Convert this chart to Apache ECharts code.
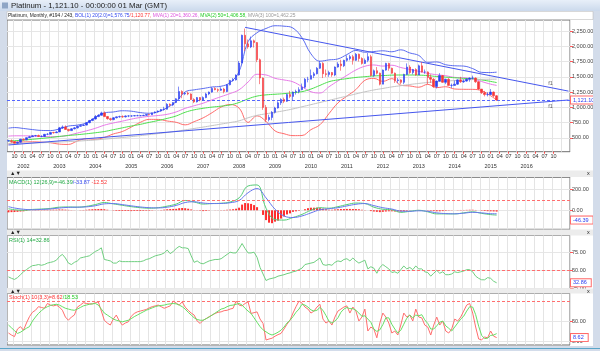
<!DOCTYPE html>
<html>
<head>
<meta charset="utf-8">
<script src="https://cdn.jsdelivr.net/npm/echarts@6/dist/echarts.min.js"></script>
<style>
html, body { margin: 0; padding: 0; background: #fff; }
#main { width: 600px; height: 351px; }
</style>
</head>
<body>
<div id="main"></div>
<script>
// monthly categories, Aug 2001 .. Mar 2017 (future months stay empty)
const months = [];
for (let y = 2001, m = 8; months.length < 188; ) {
    months.push(y + '-' + String(m).padStart(2, '0'));
    m++;
    if (m > 12) { m = 1; y++; }
}

// [open, close, low, high], Aug 2001 .. Mar 2015
const candles = [
    [450,455,440,470],[455,440,425,475],[440,415,410,445],[415,430,405,440],[430,480,425,485],
    [480,470,455,490],[470,505,465,510],[505,520,500,535],[520,535,515,545],[535,540,525,550],[540,525,515,555],
    [525,525,510,545],[525,560,520,565],[560,560,545,580],[560,590,555,600],[590,585,570,600],[585,598,580,610],
    [598,665,595,680],[665,680,650,705],[680,640,630,705],[640,620,605,650],[620,650,615,660],[650,665,640,680],
    [665,690,655,700],[690,705,680,715],[705,710,695,725],[710,750,705,760],[750,785,740,795],[785,810,775,815],
    [810,850,800,875],[850,870,840,890],[870,910,865,930],[910,850,840,935],[850,815,800,860],[815,800,780,830],
    [800,830,790,840],[830,845,820,850],[845,850,830,865],[850,845,830,870],[845,860,835,870],[860,860,840,870],
    [860,860,845,870],[860,865,855,875],[865,865,855,880],[865,865,855,875],[865,870,860,880],[870,885,860,890],
    [885,880,870,895],[880,910,875,915],[910,925,900,935],[925,940,915,950],[940,965,930,975],[965,970,945,1010],
    [970,1050,965,1070],[1050,1040,1010,1065],[1040,1080,1020,1085],[1080,1140,1070,1150],[1140,1260,1130,1340],[1260,1220,1150,1280],
    [1220,1230,1200,1250],[1230,1220,1200,1260],[1220,1130,1120,1230],[1130,1090,1070,1150],[1090,1160,1080,1170],[1160,1120,1100,1170],
    [1120,1160,1110,1180],[1160,1220,1150,1240],[1220,1250,1200,1260],[1250,1310,1240,1330],[1310,1290,1280,1330],[1290,1280,1250,1310],
    [1280,1300,1270,1330],[1300,1260,1230,1320],[1260,1370,1250,1380],[1370,1440,1360,1450],[1440,1450,1420,1480],[1450,1530,1440,1540],
    [1530,1725,1520,1760],[1725,2180,1720,2190],[2180,2040,1920,2290],[2040,1990,1960,2110],[1990,2090,1970,2160],[2090,2060,1980,2110],
    [2060,1780,1740,2070],[1780,1480,1380,1800],[1480,1000,960,1490],[1000,800,760,1040],[800,835,770,880],[835,920,790,940],
    [920,990,900,1010],[990,1075,980,1100],[1075,1130,1040,1150],[1130,1100,1070,1160],[1100,1210,1090,1230],[1210,1180,1150,1270],
    [1180,1250,1110,1260],[1250,1260,1210,1290],[1260,1290,1230,1330],[1290,1330,1280,1390],[1330,1460,1310,1480],[1460,1460,1410,1500],
    [1460,1520,1460,1620],[1520,1550,1480,1580],[1550,1640,1540,1660],[1640,1720,1630,1760],[1720,1550,1480,1740],[1550,1540,1500,1620],
    [1540,1570,1500,1600],[1570,1530,1500,1580],[1530,1660,1510,1670],[1660,1710,1650,1740],[1710,1680,1600,1780],[1680,1770,1660,1780],
    [1770,1800,1750,1850],[1800,1830,1770,1860],[1830,1770,1700,1860],[1770,1870,1760,1890],[1870,1800,1750,1880],[1800,1720,1700,1820],
    [1720,1770,1710,1800],[1770,1830,1740,1890],[1830,1520,1510,1860],[1520,1600,1500,1620],[1600,1560,1540,1660],[1560,1380,1360,1570],
    [1380,1610,1380,1620],[1610,1720,1600,1730],[1720,1640,1600,1730],[1640,1560,1550,1650],[1560,1440,1400,1570],[1440,1450,1400,1480],
    [1450,1410,1380,1460],[1410,1540,1380,1550],[1540,1660,1530,1720],[1660,1570,1550,1690],[1570,1620,1540,1630],[1620,1530,1520,1640],
    [1530,1680,1530,1700],[1680,1580,1570,1740],[1580,1580,1550,1620],[1580,1490,1380,1590],[1490,1460,1400,1540],[1460,1340,1320,1480],
    [1340,1430,1310,1440],[1430,1520,1420,1560],[1520,1410,1400,1530],[1410,1460,1380,1470],[1460,1360,1360,1480],[1360,1360,1320,1390],
    [1360,1380,1360,1440],[1380,1450,1370,1460],[1450,1420,1400,1500],[1420,1430,1400,1460],[1430,1460,1420,1480],[1460,1480,1420,1490],
    [1480,1480,1460,1520],[1480,1420,1400,1490],[1420,1300,1290,1430],[1300,1240,1220,1300],[1240,1210,1180,1270],[1210,1210,1180,1250],
    [1210,1250,1200,1300],[1250,1190,1170,1260],[1190,1121,1110,1200]
];
const lastPrice = 1121.10;

// indicator lines read quarterly
const lineDates = ['2001-08'];
for (let i = 2; i <= 161; i += 3) lineDates.push(months[i]);
lineDates.push('2015-03');

const bbUpper = [660,670,655,637,623,621,647,694,710,746, 838,909,925,945,938,915,904,931,997,1096,
    1254,1287,1309,1334,1346,1407,1588,2075,2222,2291, 2336,2329,2298,2140,1876,1756,1777,1793,1864,1932,
    1903,1914,1926,1910,1942,1891,1850,1737,1744,1698, 1681,1676,1635,1573,1570,1576.75];
const bbLower = [400,430,435,437,431,421,399,394,450,486, 478,509,565,605,678,755,804,803,777,756,
    714,767,829,914,1006,1047,988,755,862,771, 616,569,538,540,636,716,897,1073,1184,1292,
    1443,1474,1426,1470,1362,1351,1330,1377,1324,1338, 1301,1296,1295,1273,1190,1120.77];
const ma20 = [530,535,535,530,525,520,523,544,580,616, 658,709,745,775,808,835,854,867,887,926,
    984,1027,1069,1124,1176,1227,1288,1415,1542,1531, 1476,1449,1418,1340,1256,1236,1337,1433,1524,1612,
    1673,1694,1676,1690,1652,1621,1590,1557,1534,1518, 1491,1486,1465,1423,1380,1360.26];
const ma50 = [450,455,465,478,492,507,525,540,553,568, 585,605,635,665,695,722,755,785,820,860,
    920,960,985,1005,1020,1040,1080,1140,1185,1205, 1215,1225,1240,1257,1300,1360,1420,1450,1470,1490,
    1502,1515,1520,1528,1530,1530,1528,1520,1505,1495, 1485,1475,1468,1450,1425,1406.58];
const ma100 = [410,412,415,418,422,427,433,440,448,457, 467,480,493,507,522,538,555,572,590,610,
    632,655,678,702,727,752,780,830,870,895, 920,945,975,1010,1045,1080,1115,1150,1185,1220,
    1255,1285,1310,1335,1355,1375,1392,1408,1420,1430, 1440,1448,1455,1459,1461,1462.25];

const macdLine = [15,5,0,8,12,18,30,32,30,38, 55,75,62,48,35,25,20,25,40,60,
    95,80,60,65,68,80,120,235,245,20, -90,-95,-70,-40,0,25,20,35,55,70,
    65,30,10,5,-20,-10,0,-15,-35,-35, -35,-25,-15,-30,-42,-46.39];
const macdSignal = [35,22,10,5,8,13,22,28,30,33, 44,62,65,55,43,32,25,23,30,47,
    75,82,70,65,66,73,95,170,210,120, 10,-55,-70,-55,-25,5,15,25,42,58,
    65,45,25,12,-8,-10,-5,-10,-25,-32, -34,-28,-20,-25,-33,-33.87];

// monthly, Aug 2001 .. Mar 2015
const macdHist = [-20,-18,-17,-15,-12,
    -10,-6,-2,2,4,4,4,5,5,6,6,6, 8,8,6,4,2,1,0,2,3,5,8,10,
    11,12,13,10,5,0,-3,-6,-7,-7,-7,-7, -8,-7,-7,-7,-6,-5,-5,-3,-1,1,3,6,
    10,12,13,14,20,22,20,15,8,2,-2,-4, -8,-6,-3,0,1,1,2,3,5,7,10,15,
    25,55,70,68,62,50,30,0,-45,-95,-120,-125, -110,-100,-80,-60,-40,-30,-15,-10,-5,0,10,20,
    25,25,25,20,15,10,5,5,8,10,12,12, 13,13,12,12,10,5,2,0,-8,-12,-15,-18,
    -15,-12,-10,-10,-12,-12,-12,-10,-5,-2,0,0, 3,2,0,-3,-5,-8,-10,-10,-8,-5,-3,-2,
    0,2,3,3,4,5,5,3,0,-4,-7,-9, -10,-11,-12.52];
const rsi = [41,39,37.5,40,44,48,51,54,56.5,57, 58,57,58,60,61,62,64,69,72,67,
    60,58,61,63,67,68,69,70,73,76, 78,81,65,64,63,60,60,63,62,62,
    62,62,62,62,62,63,65,66,68,70, 71,72,74,78,73,76,80,83,81,81,
    80,70,61,63,60,59,61,63,64,65, 65,66,69,72,75,74,74,80,87,80,
    74,74,75,68,54,45,36,38,39,40, 42,43,44,45.5,46.5,48,49,51,53,58,
    59,60,61,64,67,58,57,58,57,61, 63,62,65,66,63,67,63,60,62,64,
    52,55,53,46,54,58,55,52,47,48, 46,51,56,52,54,51,56,52,52,48,
    47,42,46,50,46,48,44,44,45,48, 47,48,49,51,51,48,42,39,37,37,
    40,39,35,32.86];
const stochK = [20,15,11,30,36,27,45,61,72,77, 86,84,82,94,90,88,90,85,77,60,
    52,60,65,85,90,96,94,93,93,96, 98,75,52,45,40,55,65,50,40,45,
    48,62,69,73,75,77,79,83,86,88, 90,86,82,85,88,100,95,90,98,85,
    77,70,65,50,44,52,56,61,65,69, 72,73,76,77,80,82,100,90,88,94,
    98,69,71,73,55,44,2.5,5,7,12, 16,19,30,42,52,70,86,100,95,85,
    80,70,75,85,92,55,45,50,40,60, 75,80,85,88,70,85,75,50,60,80,
    25,35,30,8,45,70,60,45,20,25, 15,40,70,60,65,50,80,60,58,40,
    35,15,40,60,40,50,25,20,30,55, 50,60,75,90,94,70,35,5,3,10,
    8,25,12,8.62];
const stochD = [40,33,26,19,22,27,32,36,50,60, 69,76,82,86,89,91,92,90,86,82,
    80,78,77,80,84,88,90,92,93,94, 90,80,70,65,60,55,52,50,48,50,
    52,56,61,65,69,73,77,80,83,86, 88,89,90,92,93,94,93,90,86,80,
    72,65,58,54,52,52,56,60,65,70, 75,80,82,86,89,90,92,94,90,82,
    75,69,58,47,36,28,23,18,15,18, 22,27,35,45,52,61,72,80,92,90,
    85,78,75,77,84,77,64,50,45,50, 58,72,80,84,81,81,77,70,62,63,
    55,47,30,24,28,41,58,58,42,30, 20,27,42,57,65,58,65,63,66,53,
    44,30,30,38,47,50,38,32,25,35, 45,55,62,75,86,85,66,37,14,6,
    7,14,15,18.53];

// hand-drawn trend lines and their tags
const trendUpper = [['2008-03', 2310], ['2017-03', 1266]];
const trendLower = [['2001-08', 385], ['2017-03', 1121]];
const trendTags = [['2016-09', 1394], ['2016-09', 1023]];

const priceTicks = [500, 750, 1000, 1250, 1500, 1750, 2000, 2250];
const macdTicks = [0, 200];
const rsiTicks = [25, 50, 75];
const stochTicks = [0, 50];

const toPairs = arr => lineDates.map((d, i) => [d, arr[i]]);
const fmt2 = v => v.toLocaleString('en-US', { minimumFractionDigits: 2, maximumFractionDigits: 2 });
const isQuarter = (i, v) => months[i] < '2017' && ['01', '04', '07', '10'].indexOf(months[i].slice(5)) >= 0;
const isQuarterLine = (i, v) => ['01', '04', '07', '10'].indexOf(months[i].slice(5)) >= 0;
const FONT = 'Liberation Sans';

const grids = [
    { left: 7, top: 20, width: 563, height: 131.7 },
    { left: 7, top: 177.3, width: 563, height: 52 },
    { left: 7, top: 235.5, width: 563, height: 53 },
    { left: 7, top: 293.5, width: 563, height: 51.5 }
].map(g => Object.assign(g, {
    show: true, backgroundColor: '#fff', borderColor: '#6f6f6f', borderWidth: 1,
    containLabel: false, outerBoundsMode: 'none'
}));

function xAxisFor(idx) {
    const main = idx === 0;
    return {
        type: 'category', gridIndex: idx, data: months, boundaryGap: true,
        axisLine: { show: false },
        axisTick: { show: main, interval: isQuarter, alignWithLabel: true, length: 2, lineStyle: { color: '#ff4a4a' } },
        axisLabel: {
            show: main, interval: isQuarter, margin: 0, fontSize: 5.5, lineHeight: 10,
            color: '#333', fontFamily: FONT,
            formatter: v => {
                const p = v.split('-');
                return p[1] === '01' ? p[1] + '\n{yr|' + p[0] + '}' : p[1];
            },
            rich: { yr: { fontSize: 5.5, lineHeight: 10, color: '#333', fontFamily: FONT } }
        },
        splitLine: { show: true, interval: isQuarterLine, lineStyle: { color: '#e4e4e4', width: 1 } }
    };
}

function yAxisFor(idx, min, max, ticks, fmt) {
    return {
        type: 'value', gridIndex: idx, position: 'right', min: min, max: max, scale: true,
        axisLine: { show: false },
        axisTick: { show: true, customValues: ticks, length: 3, lineStyle: { color: '#ff5a5a' } },
        axisLabel: { customValues: ticks, formatter: fmt, fontSize: 5.5, color: '#444', margin: 2, fontFamily: FONT },
        splitLine: { show: true, lineStyle: { color: '#e6e6e6' } }
    };
}

const boxLabel = (text, shift) => ({
    show: true, position: 'end', formatter: text, distance: 1, fontSize: 5.5, color: '#2a3cf0',
    fontFamily: FONT, backgroundColor: '#fff', borderColor: '#ff6a6a', borderWidth: 1,
    padding: [1, 4, 0, 2], offset: [0, shift || 0]
});
// one markLine per series: optional dashed threshold and optional value box
function marks(dashAt, boxAt, boxText, shift) {
    const data = [];
    if (dashAt !== null) {
        data.push({ yAxis: dashAt, lineStyle: { color: '#ff6e6e', type: [3, 2], width: 1 }, label: { show: false } });
    }
    if (boxAt !== null) {
        data.push({ yAxis: boxAt, lineStyle: { color: 'rgba(0,0,0,0)', width: 0 }, label: boxLabel(boxText, shift) });
    }
    return { symbol: 'none', silent: true, data: data };
}

const line = (name, data, color, x, smooth) => ({
    name: name, type: 'line', xAxisIndex: x, yAxisIndex: x, data: data,
    symbol: 'none', smooth: smooth, connectNulls: true,
    lineStyle: { color: color, width: 1 }, z: 3
});

const label = (x, y, text, rich, size) => ({
    type: 'text', x: x, y: y,
    style: { text: text, rich: rich, fontSize: size || 5.5, fontFamily: FONT, fill: '#222', verticalAlign: 'middle' }
});

const chart = echarts.init(document.getElementById('main'), null, { renderer: 'canvas' });
chart.setOption({
    animation: false,
    backgroundColor: '#fff',
    grid: grids,
    xAxis: [0, 1, 2, 3].map(xAxisFor),
    yAxis: [
        yAxisFor(0, 275, 2430, priceTicks, fmt2),
        yAxisFor(1, -184, 319, macdTicks, fmt2),
        yAxisFor(2, 25, 98, rsiTicks, fmt2),
        yAxisFor(3, -10, 119, stochTicks, fmt2)
    ],
    graphic: [
        { type: 'rect', shape: { x: 0, y: 0, width: 600, height: 11 },
          style: { fill: new echarts.graphic.LinearGradient(0, 0, 0, 1, [{ offset: 0, color: '#e8eff9' }, { offset: 1, color: '#cbd9ec' }]) } },
        { type: 'rect', shape: { x: 2, y: 2.5, width: 6, height: 6 }, style: { fill: '#8fa6c6' } },
        label(11, 6, 'Platinum - 1,121.10 - 00:00:00 01 Mar (GMT)', null, 7.8),
        { type: 'rect', shape: { x: 0, y: 11, width: 7, height: 340 }, style: { fill: '#d3dcea' } },
        { type: 'rect', shape: { x: 593, y: 11, width: 7, height: 340 }, style: { fill: '#d3dcea' } },
        { type: 'rect', shape: { x: 0, y: 346, width: 600, height: 5 }, style: { fill: '#d3dcea' } },
        { type: 'line', shape: { x1: 0, y1: 348.5, x2: 600, y2: 348.5 }, style: { stroke: '#5aa6c9', lineWidth: 1 } },
        { type: 'rect', shape: { x: 7, y: 11.5, width: 586, height: 8 }, style: { fill: '#fff', stroke: '#b0b0b0', lineWidth: 0.5 } },
        label(8, 15.8, '{k|Platinum, Monthly, #194 / 243, }{b|BOL(1) 20(2.0)=1,576.75}{r|/1,120.77, }{m|MVA(1) 20=1,360.26, }{g|MVA(2) 50=1,406.58, }{s|MVA(3) 100=1,462.25}', {
            k: { fill: '#222' }, b: { fill: '#3347ee' }, r: { fill: '#ff3333' },
            m: { fill: '#dd55dd' }, g: { fill: '#22cc22' }, s: { fill: '#999' }
        }, 4.9),
        { type: 'rect', shape: { x: 7, y: 170.5, width: 586, height: 6.5 }, style: { fill: '#ececec' } },
        { type: 'rect', shape: { x: 7, y: 229.5, width: 586, height: 6 }, style: { fill: '#ececec' } },
        { type: 'rect', shape: { x: 7, y: 288.5, width: 586, height: 5 }, style: { fill: '#ececec' } },
        label(10, 173.8, '▲▼', null), label(10, 232.5, '▲▼', null), label(10, 291, '▲▼', null),
        label(587, 173.8, 'x', null), label(587, 232.5, 'x', null), label(587, 291, 'x', null),
        label(9, 182, '{g|MACD(1) 12(26,9)=-46.39}{b|/-33.87}{r| -12.52}', {
            g: { fill: '#22aa44' }, b: { fill: '#3347ee' }, r: { fill: '#ff3333' }
        }),
        label(9, 240, '{g|RSI(1) 14=32.86}', { g: { fill: '#22aa44' } }),
        label(9, 297.5, '{r|Stoch(1) 10(3,3)=8.62}{g|/18.53}', { r: { fill: '#ff3333' }, g: { fill: '#22cc22' } })
    ].map(g => Object.assign({ z: 100 }, g)),
    series: [
        {
            name: 'Platinum', type: 'candlestick', xAxisIndex: 0, yAxisIndex: 0, data: candles,
            barWidth: 2,
            itemStyle: { color: '#2b3ff2', color0: '#f5383a', borderColor: '#2b3ff2', borderColor0: '#f5383a', borderWidth: 0.6 },
            markLine: {
                symbol: 'none', silent: true, data: [{ yAxis: lastPrice }],
                lineStyle: { color: '#5566ff', type: [3, 2], width: 1 },
                label: Object.assign(boxLabel(fmt2(lastPrice)), { padding: [1, 2, 0, 2] })
            },
            z: 5
        },
        line('BOL upper', toPairs(bbUpper), '#5b6cf0', 0, 0.4),
        line('BOL lower', toPairs(bbLower), '#ff6b6b', 0, 0.4),
        line('MVA 20', toPairs(ma20), '#e87ae8', 0, 0.4),
        line('MVA 50', toPairs(ma50), '#4ee04e', 0, 0.4),
        line('MVA 100', toPairs(ma100), '#c4c4c4', 0, 0.4),
        line('Trend 1', trendUpper, '#4556ee', 0, false),
        line('Trend 2', trendLower, '#4556ee', 0, false),
        {
            type: 'scatter', xAxisIndex: 0, yAxisIndex: 0, data: trendTags, symbolSize: 0,
            label: { show: true, formatter: 'f1', fontSize: 5.5, color: '#333', fontFamily: FONT, position: 'inside' }
        },
        {
            name: 'MACD hist', type: 'bar', xAxisIndex: 1, yAxisIndex: 1, data: macdHist,
            barWidth: 2, itemStyle: { color: '#ff2d2d' },
            markLine: marks(100, -46.39, '-46.39', 5)
        },
        line('MACD', toPairs(macdLine), '#55cc77', 1, 0.4),
        line('Signal', toPairs(macdSignal), '#6677ee', 1, 0.4),
        Object.assign(line('RSI', rsi, '#6fcf80', 2, false), { markLine: marks(50, 32.86, '32.86') }),
        Object.assign(line('Stoch K', stochK, '#ff6e6e', 3, false), { markLine: marks(100, 8.62, '8.62') }),
        line('Stoch D', stochD, '#66e066', 3, false)
    ]
});
</script>
</body>
</html>
